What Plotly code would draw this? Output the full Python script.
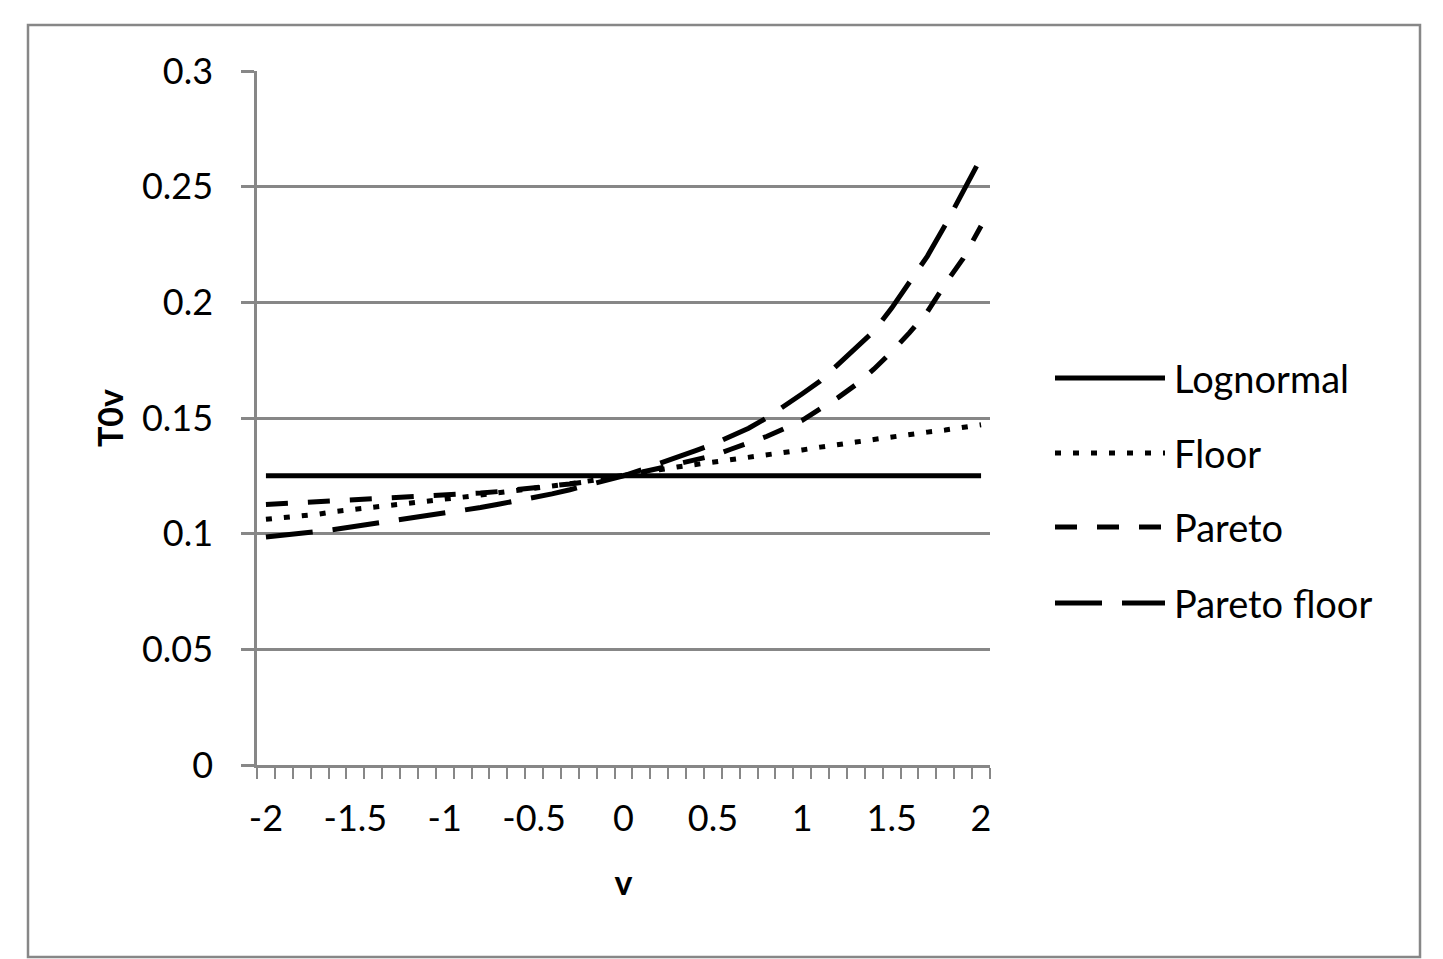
import plotly.graph_objects as go

V = [-2.0, -1.9, -1.8, -1.7, -1.6, -1.5, -1.4, -1.3, -1.2, -1.1,
     -1.0, -0.9, -0.8, -0.7, -0.6, -0.5, -0.4, -0.3, -0.2, -0.1,
     0.0, 0.1, 0.2, 0.3, 0.4, 0.5, 0.6, 0.7, 0.8, 0.9,
     1.0, 1.1, 1.2, 1.3, 1.4, 1.5, 1.6, 1.7, 1.8, 1.9, 2.0]

LOGNORMAL = [0.125] * 41

FLOOR = [0.1062, 0.1069, 0.1076, 0.1085, 0.1097, 0.1105, 0.1114, 0.1122, 0.1132, 0.1142,
         0.1150, 0.1158, 0.1167, 0.1176, 0.1186, 0.1196, 0.1206, 0.1216, 0.1227, 0.1238,
         0.1250, 0.1263, 0.1276, 0.1288, 0.1298, 0.1308, 0.1318, 0.1328, 0.1340, 0.1349,
         0.1362, 0.1374, 0.1387, 0.1396, 0.1407, 0.1419, 0.1429, 0.1439, 0.1448, 0.1460, 0.1471]

PARETO = [0.1126, 0.1130, 0.1135, 0.1139, 0.1143, 0.1146, 0.1149, 0.1153, 0.1156, 0.1159,
          0.1164, 0.1170, 0.1176, 0.1182, 0.1189, 0.1196, 0.1206, 0.1215, 0.1225, 0.1237,
          0.1250, 0.1266, 0.1283, 0.1301, 0.1318, 0.1337, 0.1365, 0.1392, 0.1420, 0.1454,
          0.1490, 0.1540, 0.1588, 0.1644, 0.1711, 0.1786, 0.1869, 0.1960, 0.2080, 0.2190, 0.2330]

PARETO_FLOOR = [0.0986, 0.0993, 0.1001, 0.1010, 0.1020, 0.1031, 0.1042, 0.1053, 0.1064, 0.1076,
                0.1088, 0.1100, 0.1113, 0.1127, 0.1141, 0.1156, 0.1172, 0.1190, 0.1210, 0.1230,
                0.1250, 0.1276, 0.1302, 0.1329, 0.1358, 0.1386, 0.1420, 0.1456, 0.1500, 0.1550,
                0.1605, 0.1660, 0.1730, 0.1802, 0.1875, 0.1975, 0.2085, 0.2200, 0.2335, 0.2475, 0.2625]

SERIES_NAMES = ["Lognormal", "Floor", "Pareto", "Pareto floor"]
X_TICK_VALS = [-2, -1.5, -1, -0.5, 0, 0.5, 1, 1.5, 2]
X_TICK_TEXT = ["-2", "-1.5", "-1", "-0.5", "0", "0.5", "1", "1.5", "2"]

FONT = "Lato, 'Open Sans', sans-serif"
GRAY = "#878787"
DASHES = ["solid", "6px,12px", "22px,20px", "47px,20px"]
SERIES = [LOGNORMAL, FLOOR, PARETO, PARETO_FLOOR]

# page has an 8px body margin; figure coordinates = page coordinates - 8
OFF = 8
W, H = 1443 - OFF, 959 - OFF
L, R, T, B = 257 - OFF, 990 - OFF, 71 - OFF, 765 - OFF

fig = go.Figure()
for name, ys, dash in zip(SERIES_NAMES, SERIES, DASHES):
    fig.add_trace(go.Scatter(x=V, y=ys, mode="lines", name=name,
                             line=dict(color="black", width=5, dash=dash),
                             showlegend=False))

def px_x(px):
    return (px - OFF - L) / (R - L)

def px_y(py):
    return (B - (py - OFF)) / (B - T)

shapes = [dict(type="rect", xref="paper", yref="paper",
               x0=px_x(28), x1=px_x(1420), y0=px_y(957), y1=px_y(25),
               line=dict(color=GRAY, width=2.5), layer="below")]
annotations = []
legend_rows = [378, 453, 527, 603]
for name, dash, py in zip(SERIES_NAMES, DASHES, legend_rows):
    shapes.append(dict(type="line", xref="paper", yref="paper",
                       x0=px_x(1055), x1=px_x(1165), y0=px_y(py), y1=px_y(py),
                       line=dict(color="black", width=5, dash=dash)))
    annotations.append(dict(text=name, xref="paper", yref="paper",
                            x=px_x(1172), y=px_y(py), xanchor="left", yanchor="middle",
                            showarrow=False, font=dict(family=FONT, size=38, color="black")))

fig.update_layout(
    width=W, height=H,
    margin=dict(l=L, r=W - R, t=T, b=H - B),
    paper_bgcolor="white", plot_bgcolor="white",
    font=dict(family=FONT, size=36, color="black"),
    shapes=shapes, annotations=annotations,
    showlegend=False,
)
fig.update_xaxes(
    range=[-2.05, 2.05], tickvals=X_TICK_VALS, ticktext=X_TICK_TEXT,
    ticks="", ticklabelstandoff=20, showgrid=False, zeroline=False,
    showline=True, linecolor=GRAY, linewidth=2.5,
    minor=dict(ticks="outside", tick0=-2.05, dtick=0.1, ticklen=11,
               tickcolor=GRAY, tickwidth=2, showgrid=False),
    title=dict(text="<b>v</b>", font=dict(family=FONT, size=34), standoff=34),
    tickfont=dict(family=FONT, size=36),
)
fig.update_yaxes(
    range=[0, 0.3], dtick=0.05, tick0=0,
    ticks="outside", ticklen=13, tickcolor=GRAY, tickwidth=2.5,
    ticklabelstandoff=21,
    showgrid=True, gridcolor=GRAY, gridwidth=2.5, zeroline=False,
    showline=True, linecolor=GRAY, linewidth=2.5,
    title=dict(text="<b>T0v</b>", font=dict(family=FONT, size=34), standoff=9),
    tickfont=dict(family=FONT, size=36),
)

fig.write_html("out.html")
